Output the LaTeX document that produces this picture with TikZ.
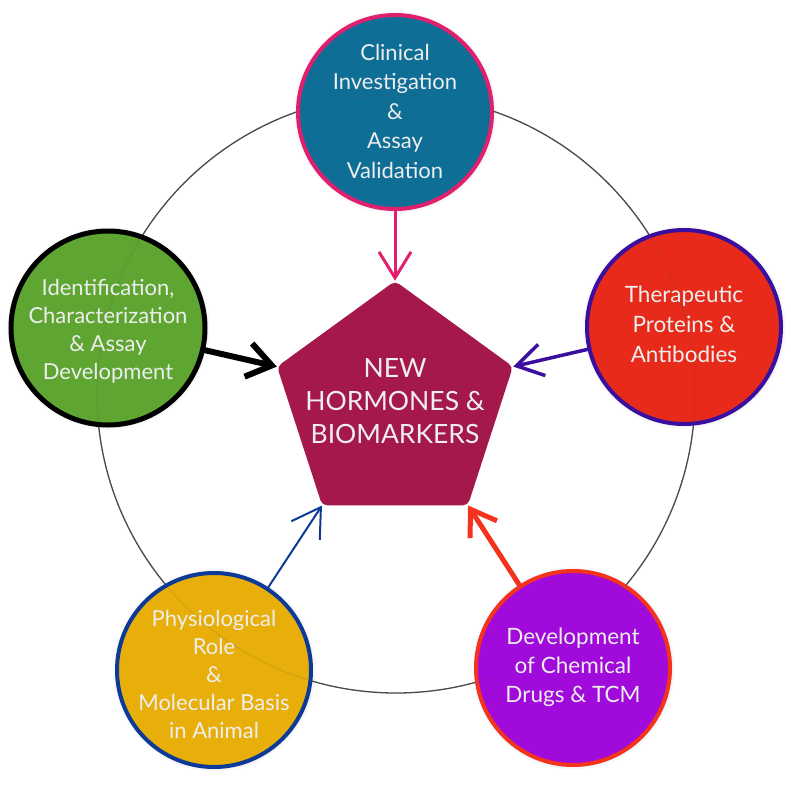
\documentclass[tikz,border=0pt]{standalone}
\usepackage{fontspec}
\setmainfont{Lato}
\usetikzlibrary{shapes.geometric,arrows.meta,shadows}
\definecolor{ringc}{HTML}{4A4A4A}
\definecolor{pinkc}{HTML}{E0206E}
\definecolor{tealc}{HTML}{0E6E96}
\definecolor{greenc}{HTML}{5EA631}
\definecolor{redc}{HTML}{E72A1A}
\definecolor{indigoc}{HTML}{3A0FA0}
\definecolor{goldc}{HTML}{E8AF0A}
\definecolor{bluec}{HTML}{0E3A97}
\definecolor{purplec}{HTML}{A00ADB}
\definecolor{orangec}{HTML}{F3331D}
\definecolor{pentc}{HTML}{A5184B}
\definecolor{txtc}{HTML}{EEEEEE}
\tikzset{
  topic/.style={circle, minimum size=194pt, inner sep=0pt, line width=4pt,
    circular glow={shadow scale=1.05, fill=black!60, opacity=0.35}},
  topictext/.style={text=txtc, align=center, inner sep=0pt,
    font=\fontsize{22}{29.5}\selectfont},
  hub/.style={regular polygon, regular polygon sides=5, minimum size=248pt,
    inner sep=0pt, fill=pentc, rounded corners=5pt},
  hubtext/.style={text=txtc, align=center, inner sep=0pt,
    font=\fontsize{26.5}{33}\selectfont},
  link/.style={line cap=round},
  ringline/.style={draw=ringc, line width=1.3pt}
}
\begin{document}
\begin{tikzpicture}[x=1pt,y=-1pt]
\useasboundingbox (0,0) rectangle (791,790);
\draw[ringline] (396,394) circle[radius=299pt];

\node[hub] (pent) at (395,405) {};
\node[hubtext] (pentt) at (395,401) {NEW\\HORMONES \&\\BIOMARKERS};

\node[topic, fill=tealc, draw=pinkc] (c1) at (395,112) {};
\node[topic, fill=greenc, draw=black, line width=5pt] (c2) at (108,328) {};
\node[topic, fill=goldc, draw=bluec] (c3) at (214,670) {};
\node[topic, fill=purplec, draw=orangec] (c4) at (573,668) {};
\node[topic, fill=redc, draw=indigoc] (c5) at (684,327) {};

\draw[ringc, line width=1pt, opacity=0.15] (396,394) circle[radius=299pt];

\node[topictext] (t1) at ([yshift=1pt]c1.center) {Clinical\\Investigation\\\&\\Assay\\Validation};
\node[topictext, font=\fontsize{22}{28}\selectfont] (t2) at ([yshift=-3pt]c2.center) {Identification,\\Characterization\\\& Assay\\Development};
\node[topictext, font=\fontsize{22}{28}\selectfont] (t3) at ([yshift=-4pt]c3.center) {Physiological\\Role\\\&\\Molecular Basis\\in Animal};
\node[topictext, font=\fontsize{22.5}{29}\selectfont] (t4) at ([yshift=1pt]c4.center) {Development\\of Chemical\\Drugs \& TCM};
\node[topictext, font=\fontsize{22.5}{30}\selectfont] (t5) at ([yshift=3pt]c5.center) {Therapeutic\\Proteins \&\\Antibodies};

\draw[link, pinkc, line width=3pt, -{Straight Barb[length=26pt, width=32pt]}] (c1) -- (pent.corner 1);
\draw[link, black, line width=6pt, -{Straight Barb[length=24pt, width=34pt]}] (c2) -- (pent.corner 2);
\draw[link, bluec, line width=2pt, -{Straight Barb[length=28pt, width=34pt]}] (c3) -- (pent.corner 3);
\draw[link, orangec, line width=5pt, -{Straight Barb[length=24pt, width=32pt]}] (c4) -- (pent.corner 4);
\draw[link, indigoc, line width=3.5pt, -{Straight Barb[length=26pt, width=32pt]}] (c5) -- (pent.corner 5);
\end{tikzpicture}
\end{document}
